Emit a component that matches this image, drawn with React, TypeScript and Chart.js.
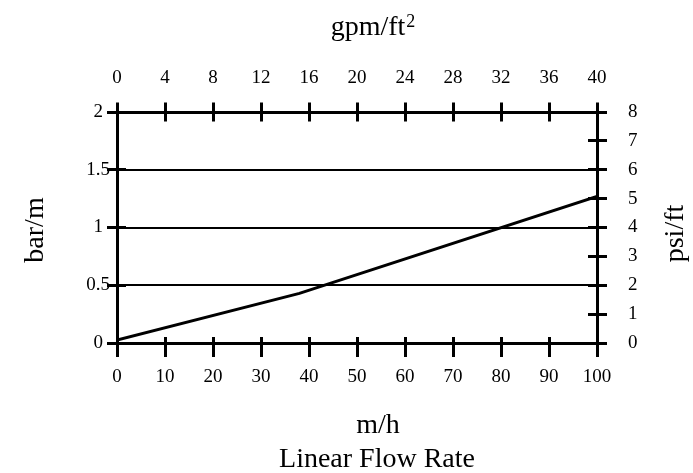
import React, { useEffect, useRef } from 'react';
import { Chart, registerables } from 'chart.js';

Chart.register(...registerables);

// Data (m/h vs bar/m)
const flowRateMh: number[] = [0, 38, 100];
const pressureBarPerM: number[] = [0.025, 0.43, 1.27];

// Axis ranges and steps
const bottomRange: number[] = [0, 100, 10]; // m/h
const topRange: number[] = [0, 40, 4]; // gpm/ft²
const leftRange: number[] = [0, 2, 0.5]; // bar/m
const rightRange: number[] = [0, 8, 1]; // psi/ft

// Titles
const bottomTitle: string[] = ['m/h', 'Linear Flow Rate'];
const topTitleBase = 'gpm/ft';
const topTitleSup = '2';
const leftTitle = 'bar/m';
const rightTitle = 'psi/ft';

const FAMILY = '"Liberation Serif", "Times New Roman", serif';
const TITLE_SIZE = 28;
const SUP_SIZE = 18;
const tickFont = { family: FAMILY, size: 19, lineHeight: 1.2 };

const crossTicks = {
  id: 'crossTicks',
  afterDatasetsDraw(chart: any) {
    const ctx = chart.ctx as CanvasRenderingContext2D;
    const a = chart.chartArea;
    const al = (p: number) => Math.round(p - 1.5) + 1.5;
    ctx.save();
    ctx.strokeStyle = '#000';
    ctx.lineWidth = 3;
    ctx.lineCap = 'butt';
    ctx.beginPath();
    const sx = chart.scales.x;
    sx.ticks.forEach((t: any) => {
      const p = al(sx.getPixelForValue(t.value));
      ctx.moveTo(p, a.bottom - 6);
      ctx.lineTo(p, a.bottom + 14);
    });
    const sx2 = chart.scales.x2;
    sx2.ticks.forEach((t: any) => {
      const p = al(sx2.getPixelForValue(t.value));
      ctx.moveTo(p, a.top - 9.5);
      ctx.lineTo(p, a.top + 9.5);
    });
    const sy = chart.scales.y;
    sy.ticks.forEach((t: any) => {
      const p = al(sy.getPixelForValue(t.value));
      ctx.moveTo(a.left - 10, p);
      ctx.lineTo(a.left + 9, p);
    });
    const sy2 = chart.scales.y2;
    sy2.ticks.forEach((t: any) => {
      const p = al(sy2.getPixelForValue(t.value));
      ctx.moveTo(a.right - 9, p);
      ctx.lineTo(a.right + 10, p);
    });
    ctx.stroke();
    ctx.restore();

    // titles
    const cx = (a.left + a.right) / 2;
    const cy = (a.top + a.bottom) / 2;
    ctx.save();
    ctx.fillStyle = '#000';
    ctx.textBaseline = 'alphabetic';
    const big = `${TITLE_SIZE}px ${FAMILY}`;
    const small = `${SUP_SIZE}px ${FAMILY}`;

    // top: gpm/ft²
    ctx.font = big;
    const wBase = ctx.measureText(topTitleBase).width;
    ctx.font = small;
    const wSup = ctx.measureText(topTitleSup).width;
    const gap = 1;
    const startX = cx + 16 - (wBase + gap + wSup) / 2;
    ctx.textAlign = 'left';
    ctx.font = big;
    ctx.fillText(topTitleBase, startX, a.top - 77);
    ctx.font = small;
    ctx.fillText(topTitleSup, startX + wBase + gap, a.top - 85);

    // bottom: two lines
    ctx.font = big;
    ctx.textAlign = 'center';
    ctx.fillText(bottomTitle[0], cx + 21, a.bottom + 90);
    ctx.fillText(bottomTitle[1], cx + 20, a.bottom + 123.5);

    // left: bar/m reading bottom to top
    ctx.save();
    ctx.translate(a.left - 74, cy + 2.5);
    ctx.rotate(-Math.PI / 2);
    ctx.fillText(leftTitle, 0, 0);
    ctx.restore();

    // right: psi/ft reading bottom to top
    ctx.save();
    ctx.translate(a.right + 86, cy + 6);
    ctx.rotate(-Math.PI / 2);
    ctx.fillText(rightTitle, 0, 0);
    ctx.restore();

    ctx.restore();
  },
};

export default function App() {
  const ref = useRef<HTMLCanvasElement>(null);
  useEffect(() => {
    document.body.style.margin = '0';
    const canvas = ref.current!;
    const border = { display: true, color: '#000', width: 3 };
    const chart = new Chart(canvas, {
      type: 'line',
      data: {
        datasets: [
          {
            data: flowRateMh.map((x, i) => ({ x, y: pressureBarPerM[i] })),
            borderColor: '#000',
            borderWidth: 3,
            pointRadius: 0,
            tension: 0,
            fill: false,
            xAxisID: 'x',
            yAxisID: 'y',
          },
        ],
      },
      options: {
        animation: false,
        responsive: false,
        devicePixelRatio: 1,
        layout: { padding: 0 },
        plugins: { legend: { display: false }, tooltip: { enabled: false } },
        scales: {
          x: {
            type: 'linear',
            position: 'bottom',
            min: bottomRange[0],
            max: bottomRange[1],
            ticks: { stepSize: bottomRange[2], padding: 23, font: tickFont, color: '#000', maxRotation: 0, autoSkip: false },
            grid: { display: true, drawOnChartArea: false, drawTicks: false },
            border,
            afterFit: (s: any) => { s.height = 130; },
          },
          x2: {
            type: 'linear',
            position: 'top',
            min: topRange[0],
            max: topRange[1],
            ticks: { stepSize: topRange[2], padding: 22.9, font: tickFont, color: '#000', maxRotation: 0, autoSkip: false },
            grid: { display: true, drawOnChartArea: false, drawTicks: false },
            border,
            afterFit: (s: any) => { s.height = 112; },
          },
          y: {
            type: 'linear',
            position: 'left',
            min: leftRange[0],
            max: leftRange[1],
            ticks: { stepSize: leftRange[2], padding: 7, crossAlign: 'center', font: tickFont, color: '#000', callback: (v: any) => String(v) },
            grid: { display: true, drawOnChartArea: true, drawTicks: false, color: '#000', lineWidth: 2 },
            border,
            afterFit: (s: any) => { s.width = 117; },
          },
          y2: {
            type: 'linear',
            position: 'right',
            min: rightRange[0],
            max: rightRange[1],
            ticks: { stepSize: rightRange[2], padding: 31, font: tickFont, color: '#000' },
            grid: { display: true, drawOnChartArea: false, drawTicks: false },
            border,
            afterFit: (s: any) => { s.width = 96; },
          },
        },
      } as any,
      plugins: [crossTicks],
    });
    return () => chart.destroy();
  }, []);
  return <canvas ref={ref} width={693} height={473} style={{ display: 'block' }} />;
}
